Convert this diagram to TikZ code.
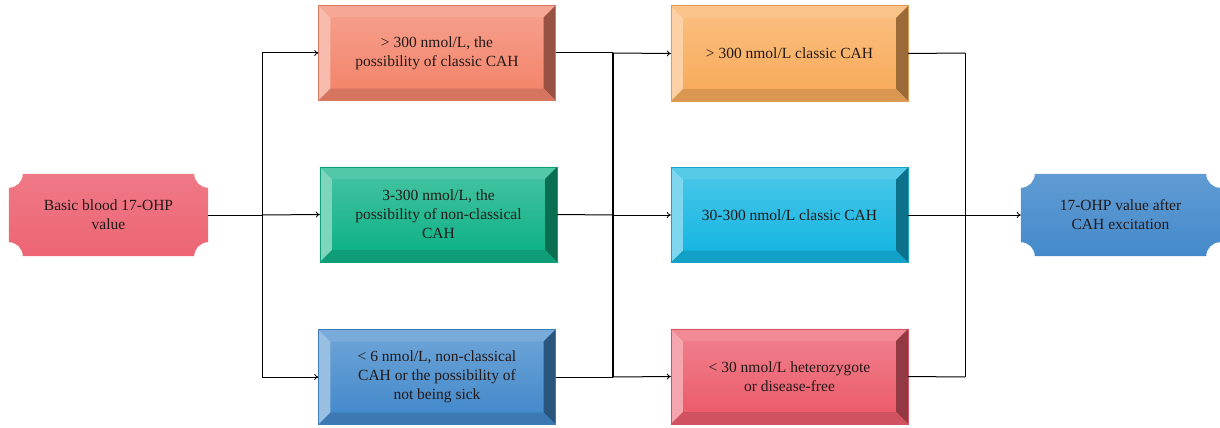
\documentclass[tikz,border=0pt]{standalone}
\usepackage{fontspec}
\setmainfont{Liberation Serif}
\usetikzlibrary{calc,backgrounds,arrows.meta}
\definecolor{salmon}{RGB}{243,133,108}
\definecolor{greenb}{RGB}{16,178,134}
\definecolor{blueb}{RGB}{68,138,203}
\definecolor{orangeb}{RGB}{248,172,92}
\definecolor{cyanb}{RGB}{22,182,226}
\definecolor{redb}{RGB}{236,92,108}
\definecolor{txt}{RGB}{35,25,25}
\newcommand\bevelfill[2]{%
\begin{pgfonlayer}{background}
\fill[#2] (#1.north west) rectangle (#1.south east);
\shade[top color=#2!80!white,bottom color=#2] ($(#1.north west)+(12pt,-12pt)$) rectangle ($(#1.south east)+(-12pt,12pt)$);
\fill[#2!55!white] (#1.north west) -- (#1.south west) -- ($(#1.south west)+(12pt,12pt)$) -- ($(#1.north west)+(12pt,-12pt)$) -- cycle;
\fill[#2!72!white] (#1.north west) -- (#1.north east) -- ($(#1.north east)+(-12pt,-12pt)$) -- ($(#1.north west)+(12pt,-12pt)$) -- cycle;
\fill[#2!62!black] (#1.north east) -- (#1.south east) -- ($(#1.south east)+(-12pt,12pt)$) -- ($(#1.north east)+(-12pt,-12pt)$) -- cycle;
\fill[#2!88!black] (#1.south west) -- (#1.south east) -- ($(#1.south east)+(-12pt,12pt)$) -- ($(#1.south west)+(12pt,12pt)$) -- cycle;
\draw[#2!90!black,line width=0.6pt] (#1.north west) rectangle (#1.south east);
\end{pgfonlayer}}
\newcommand\scoopfill[3]{%
\begin{pgfonlayer}{background}
\shade[top color=#2,bottom color=#3] ($(#1.north west)+(14pt,0)$) -- ($(#1.north east)+(-14pt,0)$) arc[start angle=180,end angle=270,radius=14pt] -- ($(#1.south east)+(0,14pt)$) arc[start angle=90,end angle=180,radius=14pt] -- ($(#1.south west)+(14pt,0)$) arc[start angle=0,end angle=90,radius=14pt] -- ($(#1.north west)+(0,-14pt)$) arc[start angle=270,end angle=360,radius=14pt] -- cycle;
\end{pgfonlayer}}
\begin{document}
\begin{tikzpicture}[x=1pt,y=1pt,
  lbl/.style={inner sep=0pt,align=center,text=txt,font=\fontsize{15.5}{19}\selectfont},
  box/.style={lbl,minimum width=237pt,minimum height=95pt},
  scoop/.style={lbl,minimum width=199pt,minimum height=82pt},
  conn/.style={line width=1pt,black},
  arr/.style={conn,-{To[length=4pt,width=6pt,line width=0.8pt]}}]
\useasboundingbox (0,0) rectangle (1220,-428);
\node[scoop] (a) at (108.5,-215) {Basic blood 17-OHP\\value};
\node[scoop] (r) at (1120.5,-215) {17-OHP value after\\CAH excitation};
\node[box] (b1) at (437,-53) {> 300 nmol/L, the\\possibility of classic CAH};
\node[box] (b2) at (438.5,-214.5) {3-300 nmol/L, the\\possibility of non-classical\\CAH};
\node[box] (b3) at (437,-377) {< 6 nmol/L, non-classical\\CAH or the possibility of\\not being sick};
\node[box] (c1) at (789.5,-53.5) {> 300 nmol/L classic CAH};
\node[box] (c2) at (789.5,-215) {30-300 nmol/L classic CAH};
\node[box] (c3) at (789.5,-376.5) {< 30 nmol/L heterozygote\\or disease-free};
\scoopfill{a}{redb!82!white}{redb!95!white}
\scoopfill{r}{blueb!85!white}{blueb}
\bevelfill{b1}{salmon}
\bevelfill{b2}{greenb}
\bevelfill{b3}{blueb}
\bevelfill{c1}{orangeb}
\bevelfill{c2}{cyanb}
\bevelfill{c3}{redb}
\coordinate (j1t) at (262,-53);
\coordinate (j1m) at (262,-215);
\coordinate (j1b) at (262,-377);
\coordinate (j2t) at (613,-53);
\coordinate (j2m) at (613,-215);
\coordinate (j2b) at (613,-377);
\coordinate (j3t) at (965,-53);
\coordinate (j3m) at (965,-215);
\coordinate (j3b) at (965,-377);
\draw[conn] (a.east) -- (j1m);
\draw[conn] (j1t) -- (j1b);
\draw[arr] (j1t) -- (b1.west);
\draw[arr] (j1m) -- (b2.west);
\draw[arr] (j1b) -- (b3.west);
\draw[conn] (b1.east) -- (j2t);
\draw[conn] (b2.east) -- (j2m);
\draw[conn] (b3.east) -- (j2b);
\draw[line width=2pt] (j2t) -- (j2b);
\draw[arr] (j2t) -- (c1.west);
\draw[arr] (j2m) -- (c2.west);
\draw[arr] (j2b) -- (c3.west);
\draw[conn] (c1.east) -- (j3t);
\draw[conn] (c2.east) -- (j3m);
\draw[conn] (c3.east) -- (j3b);
\draw[conn] (j3t) -- (j3b);
\draw[arr] (j3m) -- (r.west);
\end{tikzpicture}
\end{document}
